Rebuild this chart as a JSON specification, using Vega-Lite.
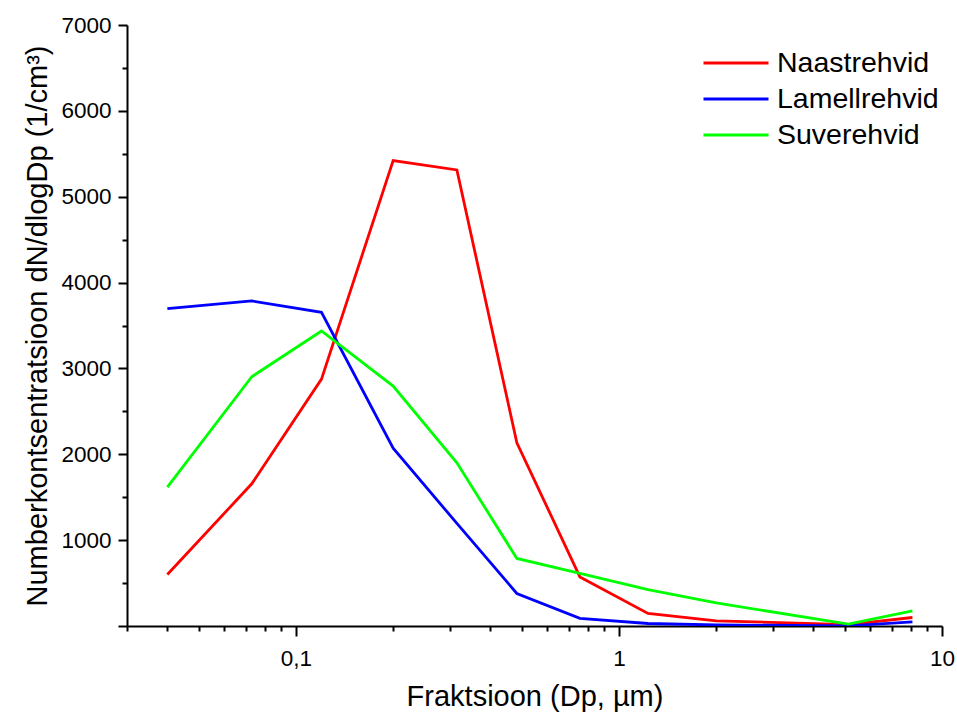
{
  "$schema": "https://vega.github.io/schema/vega-lite/v6.json",
  "width": 815,
  "height": 601,
  "autosize": {"type": "none"},
  "padding": {"left": 127, "top": 25, "right": 15, "bottom": 92},
  "background": "white",
  "config": {
    "view": {"stroke": null},
    "font": "Liberation Sans",
    "axis": {
      "domainColor": "black",
      "domainWidth": 2,
      "tickColor": "black",
      "tickWidth": 2,
      "labelColor": "black",
      "labelFont": "Liberation Sans",
      "labelFontSize": 22.5,
      "titleFont": "Liberation Sans",
      "titleFontSize": 29,
      "titleFontWeight": "normal",
      "titleColor": "black",
      "grid": false,
      "labelFlush": false,
      "labelOverlap": false
    }
  },
  "data": {
    "values": [
      {"dp": 0.04, "series": "Naastrehvid", "n": 600},
      {"dp": 0.073, "series": "Naastrehvid", "n": 1656},
      {"dp": 0.12, "series": "Naastrehvid", "n": 2876},
      {"dp": 0.2, "series": "Naastrehvid", "n": 5421},
      {"dp": 0.315, "series": "Naastrehvid", "n": 5312},
      {"dp": 0.483, "series": "Naastrehvid", "n": 2134},
      {"dp": 0.757, "series": "Naastrehvid", "n": 572},
      {"dp": 1.23, "series": "Naastrehvid", "n": 146},
      {"dp": 2.0, "series": "Naastrehvid", "n": 60},
      {"dp": 5.13, "series": "Naastrehvid", "n": 17},
      {"dp": 8.1, "series": "Naastrehvid", "n": 99},
      {"dp": 0.04, "series": "Lamellrehvid", "n": 3696},
      {"dp": 0.073, "series": "Lamellrehvid", "n": 3786},
      {"dp": 0.12, "series": "Lamellrehvid", "n": 3654},
      {"dp": 0.2, "series": "Lamellrehvid", "n": 2072},
      {"dp": 0.315, "series": "Lamellrehvid", "n": 1195},
      {"dp": 0.483, "series": "Lamellrehvid", "n": 379},
      {"dp": 0.757, "series": "Lamellrehvid", "n": 90},
      {"dp": 1.23, "series": "Lamellrehvid", "n": 29},
      {"dp": 2.0, "series": "Lamellrehvid", "n": 12},
      {"dp": 5.13, "series": "Lamellrehvid", "n": 2},
      {"dp": 8.1, "series": "Lamellrehvid", "n": 48},
      {"dp": 0.04, "series": "Suverehvid", "n": 1618},
      {"dp": 0.073, "series": "Suverehvid", "n": 2903},
      {"dp": 0.12, "series": "Suverehvid", "n": 3436},
      {"dp": 0.2, "series": "Suverehvid", "n": 2795},
      {"dp": 0.315, "series": "Suverehvid", "n": 1901},
      {"dp": 0.483, "series": "Suverehvid", "n": 787},
      {"dp": 0.757, "series": "Suverehvid", "n": 612},
      {"dp": 1.23, "series": "Suverehvid", "n": 425},
      {"dp": 2.0, "series": "Suverehvid", "n": 269},
      {"dp": 5.13, "series": "Suverehvid", "n": 21},
      {"dp": 8.1, "series": "Suverehvid", "n": 176}
    ]
  },
  "mark": {"type": "line", "strokeWidth": 2.8, "clip": true},
  "encoding": {
    "x": {
      "field": "dp",
      "type": "quantitative",
      "scale": {"type": "log", "domain": [0.03, 10], "nice": false},
      "axis": {
        "title": "Fraktsioon (Dp, µm)",
        "values": [0.03, 0.04, 0.05, 0.06, 0.07, 0.08, 0.09, 0.1, 0.2, 0.3, 0.4, 0.5, 0.6, 0.7, 0.8, 0.9, 1, 2, 3, 4, 5, 6, 7, 8, 9, 10],
        "labelExpr": "datum.value == 0.1 ? '0,1' : datum.value == 1 ? '1' : datum.value == 10 ? '10' : ''",
        "tickSize": {"condition": {"test": "datum.value == 0.1 || datum.value == 1 || datum.value == 10", "value": 10}, "value": 5},
        "labelPadding": 11,
        "titlePadding": 13
      }
    },
    "y": {
      "field": "n",
      "type": "quantitative",
      "scale": {"domain": [0, 7000], "nice": false, "zero": true},
      "axis": {
        "title": "Numberkontsentratsioon dN/dlogDp (1/cm³)",
        "values": [0, 500, 1000, 1500, 2000, 2500, 3000, 3500, 4000, 4500, 5000, 5500, 6000, 6500, 7000],
        "labelExpr": "datum.value % 1000 == 0 && datum.value > 0 ? format(datum.value, 'd') : ''",
        "tickSize": {"condition": {"test": "datum.value % 1000 == 0", "value": 9}, "value": 5},
        "labelPadding": 7,
        "titlePadding": 8
      }
    },
    "color": {
      "field": "series",
      "type": "nominal",
      "scale": {"domain": ["Naastrehvid", "Lamellrehvid", "Suverehvid"], "range": ["#ff0000", "#0000ff", "#00ff00"]},
      "legend": {
        "title": null,
        "orient": "none",
        "legendX": 575,
        "legendY": 20,
        "symbolType": "stroke",
        "symbolSize": 4225,
        "symbolStrokeWidth": 2.8,
        "clipHeight": 36,
        "rowPadding": 0,
        "labelFontSize": 28.5,
        "labelFont": "Liberation Sans",
        "labelColor": "black",
        "labelOffset": 7,
        "labelLimit": 400,
        "padding": 0
      }
    }
  }
}
